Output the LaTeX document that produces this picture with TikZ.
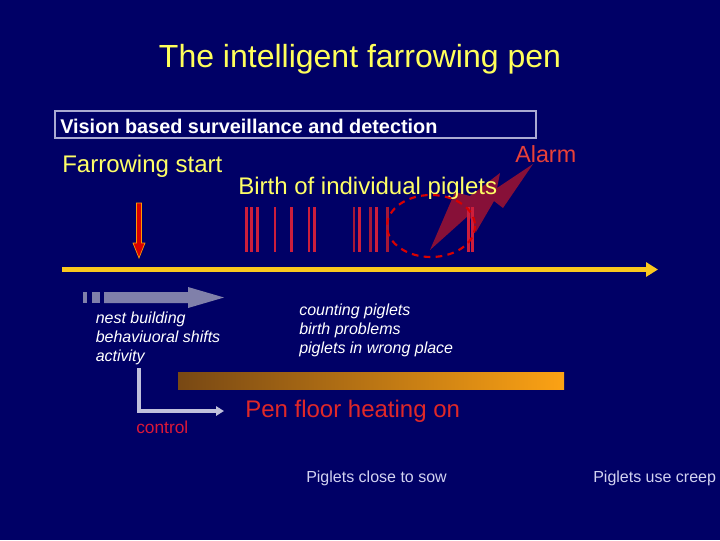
\documentclass[tikz,border=0pt]{standalone}
\usepackage{fontspec}
\setmainfont{Liberation Sans}
\usetikzlibrary{arrows.meta}
\definecolor{bg}{RGB}{0,0,102}
\definecolor{ttl}{RGB}{255,255,90}
\definecolor{ylw}{RGB}{255,255,102}
\definecolor{alarm}{RGB}{232,64,56}
\definecolor{heat}{RGB}{224,40,40}
\definecolor{ctrl}{RGB}{220,24,56}
\definecolor{bar}{RGB}{205,30,60}
\definecolor{bardark}{RGB}{165,24,56}
\definecolor{bolt}{RGB}{150,18,52}
\definecolor{gold}{RGB}{250,200,30}
\definecolor{grayarr}{RGB}{128,128,170}
\definecolor{lgray}{RGB}{192,192,220}
\definecolor{lav}{RGB}{210,210,240}
\definecolor{boxline}{RGB}{170,170,210}
\definecolor{gradL}{RGB}{120,72,20}
\definecolor{gradR}{RGB}{252,162,20}
\tikzset{
  lbl/.style={inner sep=0pt, anchor=base west},
  yel/.style={lbl, text=ylw, font=\fontsize{18}{20}\selectfont},
  itl/.style={lbl, text=white, font=\fontsize{12}{14}\selectfont\itshape},
  pig/.style={lbl, text=lav, font=\fontsize{12}{14}\selectfont},
  birthbar/.style={draw=bar, line width=2pt},
  birthbardk/.style={draw=bardark, line width=2pt}
}
\begin{document}
\begin{tikzpicture}[x=0.75pt,y=-0.75pt]
\fill[bg] (0,0) rectangle (720,540);
\useasboundingbox (0,0) rectangle (720,540);

% title
\node[inner sep=0pt, anchor=base, text=ttl, font=\fontsize{24}{28}\selectfont] (title) at (360,67) {The intelligent farrowing pen};

% surveillance box
\draw[boxline, line width=0.8pt] (55,111) rectangle (536,138);
\node[lbl, text=white, font=\fontsize{14.9}{16}\selectfont\bfseries] (vision) at (60,133) {Vision based surveillance and detection};

% lightning bolt (behind)
\fill[bolt, opacity=0.9] (430,250) -- (455,192) -- (470,196) -- (500,173) -- (497,188) -- (533,164)
  -- (503,208) -- (494,201) -- (476,232) -- (469,215) -- cycle;

% labels
\node[yel] (fstart) at (62,172) {Farrowing start};
\node[yel] (birth) at (238,194) {Birth of individual piglets};
\node[lbl, text=alarm, font=\fontsize{17.5}{20}\selectfont] (alarm) at (515,162) {Alarm};

% birth bars
\foreach \x in {246.7,251.7,257.3,275,291.7,309,314.7,359.3,376.7,468.3,472.7}
  \draw[birthbar] (\x,207) -- (\x,252);
\foreach \x in {354,370.7,387.7}
  \draw[birthbardk] (\x,207) -- (\x,252);

% dashed ellipse
\draw[draw=red!85!black, line width=1.6pt, dash pattern=on 5pt off 4pt] (431,226) ellipse [x radius=44, y radius=31];

% red farrowing arrow
\fill[red!85!black, draw=orange!80!yellow, line width=0.5pt]
  (136.5,203) -- (141.5,203) -- (141.5,243) -- (145,243) -- (139,258) -- (133,243) -- (136.5,243) -- cycle;

% timeline
\coordinate (tl0) at (62,269.5);
\coordinate (tl1) at (658,269.5);
\draw[gold, line width=3.4pt, -{Triangle[length=9pt,width=10.5pt]}] (tl0) -- (tl1);

% grey arrow
\fill[grayarr] (82.5,292) rectangle (86.7,303);
\fill[grayarr] (91.5,292) rectangle (100,303);
\fill[grayarr] (104,292) -- (188,292) -- (188,287) -- (224,297.5) -- (188,308) -- (188,303) -- (104,303) -- cycle;

% italic texts
\node[itl] (nest) at (95.5,323) {nest building};
\node[itl] (behav) at (95.5,342) {behaviuoral shifts};
\node[itl] (act) at (95.5,361) {activity};
\node[itl] (count) at (299,315) {counting piglets};
\node[itl] (bprob) at (299,334) {birth problems};
\node[itl] (wrong) at (299,353) {piglets in wrong place};

% heating bar
\shade[left color=gradL, right color=gradR] (178,372) rectangle (564,389);

% control L arrow
\coordinate (c0) at (139,368);
\coordinate (c1) at (139,411);
\coordinate (c2) at (224,411);
\draw[lgray, line width=3.2pt, -{Triangle[length=6pt,width=7pt]}] (c0) -- (c1) -- (c2);
\node[lbl, text=ctrl, font=\fontsize{13}{15}\selectfont] (control) at (136,433) {control};
\node[lbl, text=heat, font=\fontsize{18}{20}\selectfont] (heaton) at (245,417) {Pen floor heating on};

% bottom texts
\node[pig] (close) at (306,482) {Piglets close to sow};
\node[pig] (creep) at (593,482) {Piglets use creep};
\end{tikzpicture}
\end{document}
